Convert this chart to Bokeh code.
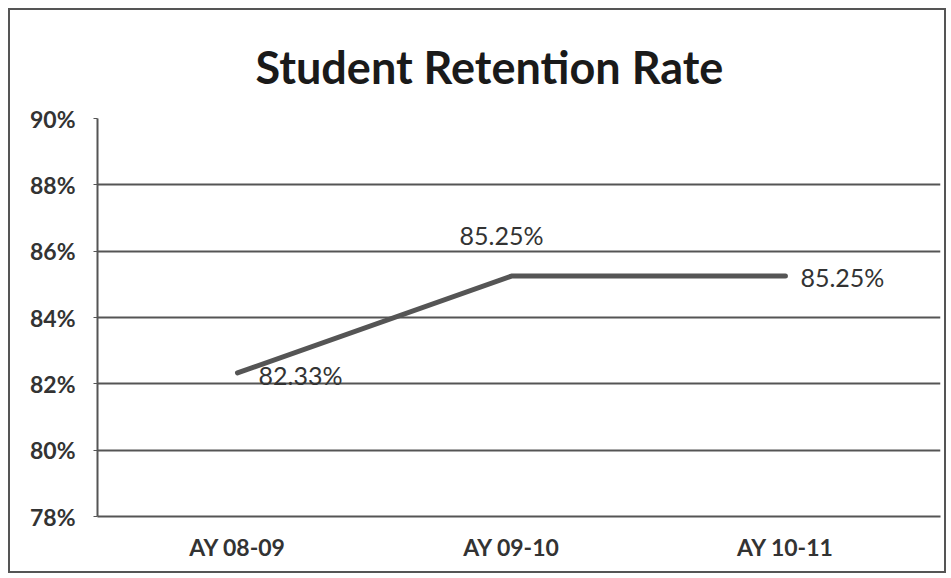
from bokeh.plotting import figure
from bokeh.models import ColumnDataSource, LabelSet, FixedTicker, Range1d
from bokeh.core.properties import value
from bokeh.embed import file_html
from bokeh.resources import INLINE

categories = ["AY 08-09", "AY 09-10", "AY 10-11"]
retention = [82.33, 85.25, 85.25]
labels = ["82.33%", "85.25%", "85.25%"]
y_ticks = [78, 80, 82, 84, 86, 88, 90]

xs = list(range(len(categories)))
src = ColumnDataSource(dict(x=xs, y=retention, label=labels,
                            xoff=[21, -10, 15], yoff=[-2, 41, -1],
                            align=["left", "center", "left"]))

FONT = "Lato"
TEXT = "#333333"
LINE = "#555555"

p = figure(width=938, height=565, output_backend="svg", toolbar_location=None,
           x_range=Range1d(-0.511, 2.566), y_range=Range1d(78, 90),
           min_border_left=87, min_border_right=8, min_border_top=108, min_border_bottom=59)
p.styles = {"border": "2px solid #555555", "margin-left": "8px", "margin-top": "8px"}
p.outline_line_color = None
p.background_fill_color = "white"
p.border_fill_color = "white"

# title
p.title.text = "Student Retention Rate"
p.title.align = "left"
p.title.offset = 158
p.title.text_font = FONT
p.title.text_font_size = "45px"
p.title.text_font_style = "bold"
p.title.text_color = "#1a1a1a"
p.title.standoff = 50

p.line(xs, retention, line_color=LINE, line_width=5, line_cap="round")

p.add_layout(LabelSet(x="x", y="y", text="label", source=src,
                      x_offset="xoff", y_offset="yoff", text_align="align",
                      text_baseline="middle", text_font=value(FONT),
                      text_font_size="25px", text_color=TEXT))

# axes
p.yaxis.ticker = FixedTicker(ticks=y_ticks)
p.yaxis.major_label_overrides = {t: f"{t}%" for t in y_ticks}
p.yaxis.major_label_text_font = FONT
p.yaxis.major_label_text_font_size = "23px"
p.yaxis.major_label_text_font_style = "bold"
p.yaxis.major_label_text_color = TEXT
p.yaxis.major_label_standoff = 18
p.yaxis.axis_line_color = LINE
p.yaxis.axis_line_width = 2
p.yaxis.major_tick_out = 4
p.yaxis.major_tick_in = 0
p.yaxis.major_tick_line_color = LINE
p.yaxis.minor_tick_line_color = None

p.xaxis.ticker = FixedTicker(ticks=xs)
p.xaxis.major_label_overrides = {i: c for i, c in zip(xs, categories)}
p.xaxis.major_label_text_font = FONT
p.xaxis.major_label_text_font_size = "23px"
p.xaxis.major_label_text_font_style = "bold"
p.xaxis.major_label_text_color = TEXT
p.xaxis.major_label_standoff = 10
p.xaxis.axis_line_color = LINE
p.xaxis.axis_line_width = 2
p.xaxis.major_tick_line_color = None
p.xaxis.minor_tick_line_color = None

p.xgrid.grid_line_color = None
p.ygrid.grid_line_color = LINE
p.ygrid.grid_line_width = 2
p.ygrid.ticker = FixedTicker(ticks=y_ticks)

open("out.html", "w").write(file_html(p, INLINE))
